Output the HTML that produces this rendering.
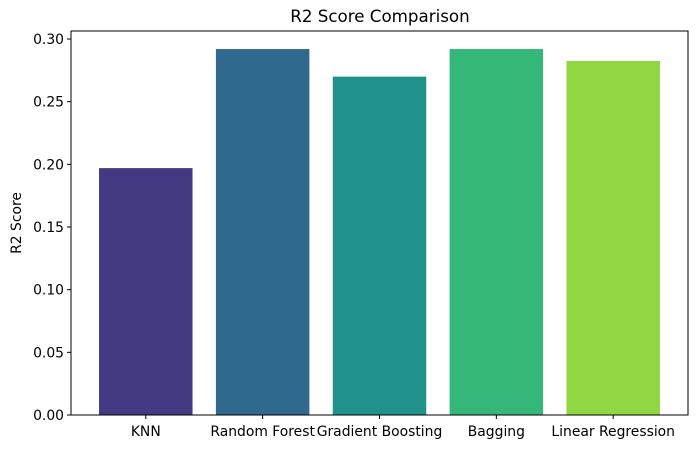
<!DOCTYPE html>
<html><head><meta charset="utf-8"><style>
body{margin:0;background:#fff;font-family:"Liberation Sans","DejaVu Sans",sans-serif;}
svg text{font-family:"DejaVu Sans","Liberation Sans",sans-serif;}
</style></head><body>
<svg id="chart" width="700" height="449" viewBox="0 0 700 449">
<text x="380" y="22" text-anchor="middle" font-size="16.7">R2 Score Comparison</text>
<text transform="translate(21,223) rotate(-90)" text-anchor="middle" font-size="13.9">R2 Score</text>
<g id="bars"></g><g id="yticks"></g><g id="xticks"></g>
<rect x="71" y="31" width="617" height="384" fill="none" stroke="#000" stroke-width="1"/>
</svg>
<script>
const categories=["KNN","Random Forest","Gradient Boosting","Bagging","Linear Regression"];
const values=[0.197,0.292,0.270,0.292,0.2825];
const colors=["#443983","#31688e","#21918c","#35b779","#90d743"];
const yTicks=[0,0.05,0.10,0.15,0.20,0.25,0.30];
const L=71,R=688,T=31,B=415;
const x=i=>L+(i+0.64)/5.28*(R-L);
const y=v=>B-v/0.3064*(B-T);
const ns="http://www.w3.org/2000/svg";
function mk(t,a,p){const e=document.createElementNS(ns,t);for(const k in a)e.setAttribute(k,a[k]);p.appendChild(e);return e;}
const bw=0.8/5.28*(R-L);
categories.forEach((c,i)=>{
 const r=mk("rect",{x:x(i)-bw/2,y:y(values[i]),width:bw,height:B-y(values[i]),fill:colors[i]},document.getElementById("bars"));
 
 
 const g=document.getElementById("xticks");
 mk("line",{x1:x(i),x2:x(i),y1:B,y2:B+4,stroke:"#000"},g);
 const t=mk("text",{x:x(i),y:B+21,"text-anchor":"middle","font-size":"13.9"},g);
 t.textContent=c;
 
 
});
yTicks.forEach(v=>{
 const g=document.getElementById("yticks");
 mk("line",{x1:L-4,x2:L,y1:y(v),y2:y(v),stroke:"#000"},g);
 const t=mk("text",{x:L-7,y:y(v)+5,"text-anchor":"end","font-size":"13.9"},g);
 t.textContent=v.toFixed(2);
 
 
});
</script>
</body></html>
